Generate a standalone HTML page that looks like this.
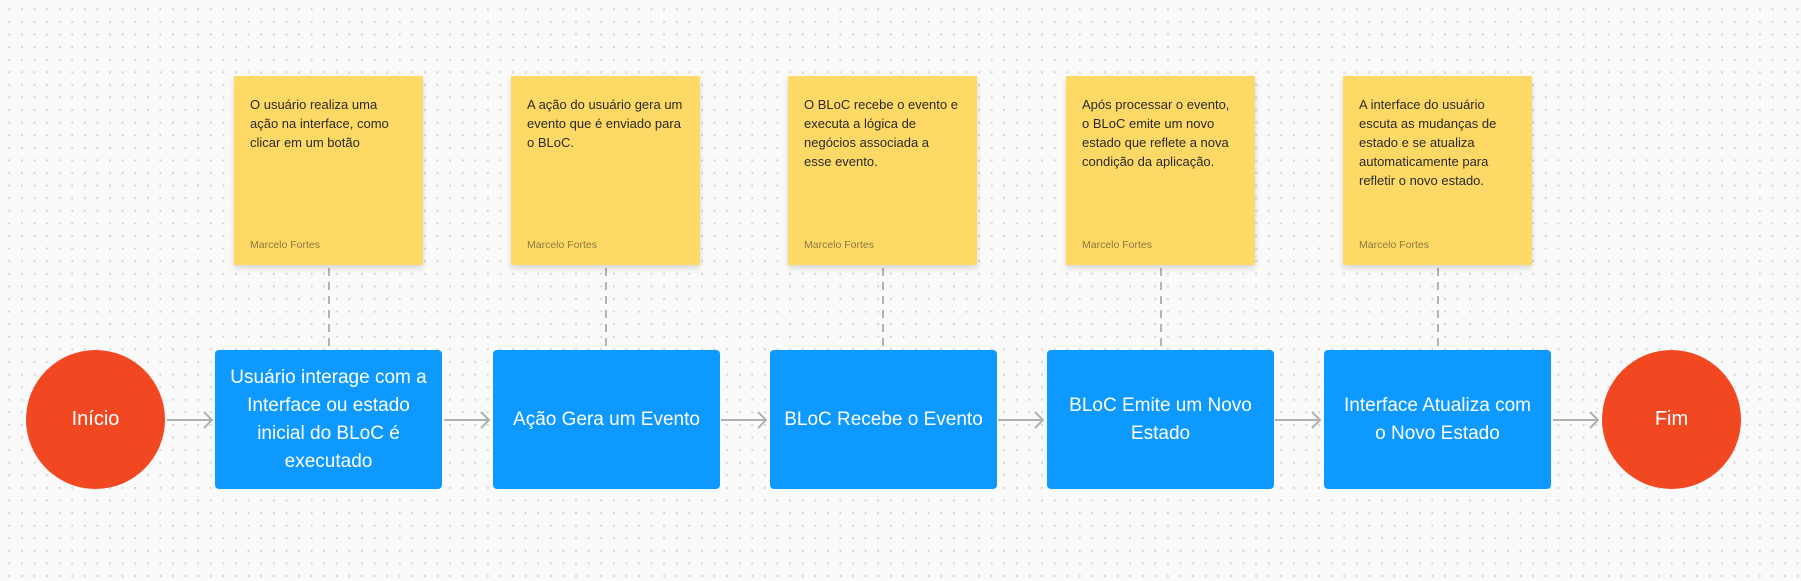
<!DOCTYPE html>
<html><head><meta charset="utf-8"><style>
*{margin:0;padding:0;box-sizing:border-box}
body{width:1801px;height:581px;overflow:hidden;position:relative;background-color:#fafafa;background-image:radial-gradient(circle,#d6d6d6 1px,transparent 1.3px);background-size:12.6px 12.6px;background-position:3px 3px;font-family:"Liberation Sans",sans-serif}
.st{position:absolute;top:76px;width:189px;height:189px;background:#FFD966;box-shadow:0 3px 6px rgba(0,0,0,.15);padding:19px 16px;font-size:13px;line-height:19px;color:#2a2a2a;white-space:nowrap}
.st .a{position:absolute;left:16px;top:160px;font-size:10.5px;color:#8a7a40}
.bx{position:absolute;top:350px;width:227px;height:139px;background:#0D99FF;border-radius:4px;color:#fff;font-size:19px;line-height:28px;display:flex;align-items:center;justify-content:center;text-align:center;white-space:nowrap}
.ci{position:absolute;top:350px;width:139px;height:139px;border-radius:50%;background:#F24822;color:#fff;font-size:20px;display:flex;align-items:center;justify-content:center}
svg{position:absolute;left:0;top:0}
</style></head><body>
<svg width="1801" height="581">
<g stroke="#b0b0b0" stroke-width="2" fill="none">
<path d="M167 420H212M204 412l8 8-8 8"/>
<path d="M444 420H489M481 412l8 8-8 8"/>
<path d="M721 420H766M758 412l8 8-8 8"/>
<path d="M998 420H1043M1035 412l8 8-8 8"/>
<path d="M1275 420H1320M1312 412l8 8-8 8"/>
<path d="M1553 420H1598M1590 412l8 8-8 8"/>
</g>
<g stroke="#b3b3b3" stroke-width="2" stroke-dasharray="8 6">
<path d="M329 268V350M606 268V350M883 268V350M1161 268V350M1438 268V350"/>
</g></svg>
<div class="ci" style="left:26px">Início</div>
<div class="ci" style="left:1602px">Fim</div>

<div class="st" style="left:234px">O usuário realiza uma<br>ação na interface, como<br>clicar em um botão<div class="a">Marcelo Fortes</div></div>
<div class="st" style="left:511px">A ação do usuário gera um<br>evento que é enviado para<br>o BLoC.<div class="a">Marcelo Fortes</div></div>
<div class="st" style="left:788px">O BLoC recebe o evento e<br>executa a lógica de<br>negócios associada a<br>esse evento.<div class="a">Marcelo Fortes</div></div>
<div class="st" style="left:1066px">Após processar o evento,<br>o BLoC emite um novo<br>estado que reflete a nova<br>condição da aplicação.<div class="a">Marcelo Fortes</div></div>
<div class="st" style="left:1343px">A interface do usuário<br>escuta as mudanças de<br>estado e se atualiza<br>automaticamente para<br>refletir o novo estado.<div class="a">Marcelo Fortes</div></div>

<div class="bx" style="left:215px">Usuário interage com a<br>Interface ou estado<br>inicial do BLoC é<br>executado</div>
<div class="bx" style="left:493px">Ação Gera um Evento</div>
<div class="bx" style="left:770px">BLoC Recebe o Evento</div>
<div class="bx" style="left:1047px">BLoC Emite um Novo<br>Estado</div>
<div class="bx" style="left:1324px">Interface Atualiza com<br>o Novo Estado</div>
</body></html>
